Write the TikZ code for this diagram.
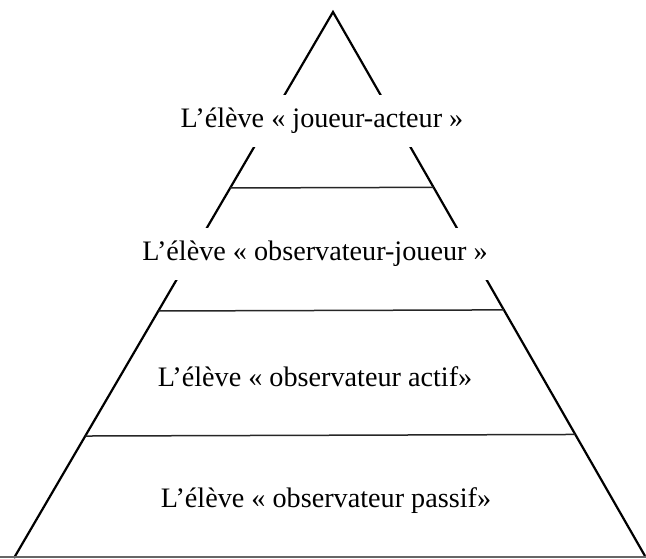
\documentclass[tikz,border=0pt]{standalone}
\usepackage{fontspec}
\setmainfont{Liberation Serif}
\usetikzlibrary{calc}
\begin{document}
\begin{tikzpicture}[x=1pt,y=-1pt,
  side/.style={line width=2.2pt,black},
  level/.style={line width=1.5pt,black!85},
  lbl/.style={font=\fontsize{28.2}{34}\selectfont,inner sep=0pt},
  gapbox/.style={lbl,fill=white,minimum height=52pt,inner xsep=4pt}]
\useasboundingbox (0,0) rectangle (646,559);
\coordinate (A) at (333,12);
\coordinate (L) at (14,558);
\coordinate (R) at (645,556);
\draw[side] (L) -- (A) -- (R);
\coordinate (B1) at (0,557);
\coordinate (B2) at (646,557);
\draw[line width=1.4pt,black!60] (B1) -- (B2);
\draw[level] ($(A)!0.3223!(L)$) coordinate (l1a) -- ($(A)!0.3223!(R)$) coordinate (l1b);
\draw[level] ($(A)!0.5476!(L)$) coordinate (l2a) -- ($(A)!0.5476!(R)$) coordinate (l2b);
\draw[level] ($(A)!0.7766!(L)$) coordinate (l3a) -- ($(A)!0.7766!(R)$) coordinate (l3b);
\node[gapbox] (t1) at (322,121) {L’élève «~joueur-acteur~»};
\node[gapbox] (t2) at (315,254) {L’élève «~observateur-joueur~»};
\node[lbl] (t3) at (315,377) {L’élève «~observateur actif»};
\node[lbl] (t4) at (326,501) {L’élève «~observateur passif»};
\end{tikzpicture}
\end{document}
